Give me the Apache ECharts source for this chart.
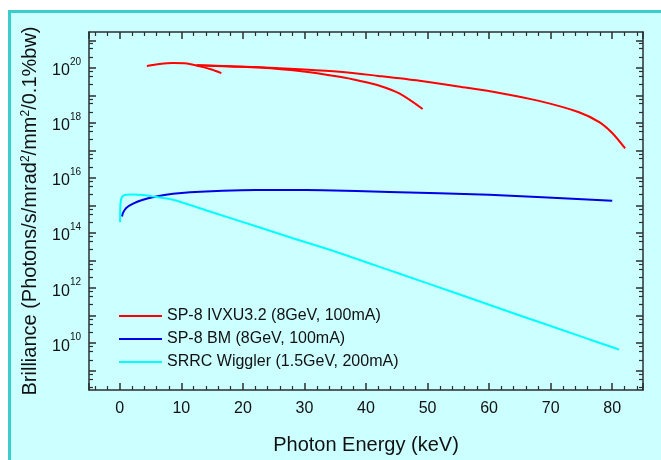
<!DOCTYPE html>
<html>
<head>
<meta charset="utf-8">
<script src="https://cdn.jsdelivr.net/npm/echarts@6/dist/echarts.min.js"></script>
<style>
html,body{margin:0;padding:0;background:#ffffff;width:661px;height:460px;overflow:hidden;}
#bg{position:absolute;left:8px;top:10px;width:700px;height:500px;background:#ccffff;border-left:3px solid #3ccccc;border-top:3px solid #3ccccc;}
#chart{position:absolute;left:0;top:0;width:661px;height:460px;}
</style>
</head>
<body>
<div id="bg"></div>
<div id="chart"></div>
<script>
// ---- data ----
const seriesNames = ['SP-8 IVXU3.2 (8GeV, 100mA)', 'SP-8 BM (8GeV, 100mA)', 'SRRC Wiggler (1.5GeV, 200mA)'];

// SP-8 IVXU3.2 : three harmonic branches
const undA_E = [4.4, 6.5, 8.6, 10.9, 13.0, 14.8, 16.5];
const undA_B = [1.16e20, 1.38e20, 1.5e20, 1.45e20, 1.13e20, 8.85e19, 6.4e19];
const undB_E = [12.5, 18.0, 22.7, 29.2, 35.7, 38.9, 42.2, 45.4, 49.2];
const undB_B = [1.25e20, 1.12e20, 1.02e20, 7.6e19, 4.7e19, 3.4e19, 2.24e19, 1.17e19, 3.2e18];
const undC_E = [12.5, 18.0, 22.7, 29.2, 35.7, 42.0, 48.7, 55.0, 61.7, 68.1, 74.6, 77.9, 80.0, 82.1];
const undC_B = [1.25e20, 1.15e20, 1.05e20, 8.9e19, 7.2e19, 5.1e19, 3.4e19, 2.1e19, 1.23e19, 6.3e18, 2.45e18, 1.07e18, 4.3e17, 1.18e17];

// SP-8 bending magnet
const bmE = [0.37, 0.54, 1.09, 2.16, 3.78, 5.95, 8.65, 11.4, 16.7, 22.2, 27.6, 33.0, 43.8, 60.0, 80.0];
const bmB = [4.0e14, 5.5e14, 8.3e14, 1.18e15, 1.63e15, 2.13e15, 2.65e15, 3.04e15, 3.47e15, 3.67e15, 3.67e15, 3.58e15, 3.12e15, 2.44e15, 1.5e15];

// SRRC wiggler
const wigE = [0.05, 0.1, 0.27, 0.54, 1.09, 2.16, 3.78, 5.95, 8.65, 15.0, 22.0, 28.0, 35.4, 45.0, 55.0, 65.0, 75.0, 81.1];
const wigB = [2.45e14, 1.08e15, 1.86e15, 2.25e15, 2.44e15, 2.5e15, 2.39e15, 2.03e15, 1.62e15, 5.7e14, 1.8e14, 6.6e13, 1.98e13, 3.6e12, 6.1e11, 1.02e11, 1.74e10, 5.9e9];

// axis ranges / ticks / tick labels
const xMin = -5, xMax = 85;
const yMin = 2e8, yMax = 2e21;
const yMajorTicks = [1e9, 1e10, 1e11, 1e12, 1e13, 1e14, 1e15, 1e16, 1e17, 1e18, 1e19, 1e20, 1e21];
const yLabelValues = [1e10, 1e12, 1e14, 1e16, 1e18, 1e20];
const yMinorMantissas = [2.5, 5, 7.5];

const colors = ['#ff0000', '#0000e6', '#00ffff'];

function pairs(xs, ys) { return xs.map((x, i) => [x, ys[i]]); }

const yMinorTicks = [];
[1e8].concat(yMajorTicks).forEach(d => yMinorMantissas.forEach(m => {
  const v = m * d; if (v > yMin && v < yMax) yMinorTicks.push(v);
}));

const FONT = 'Liberation Sans, Arial, Helvetica, sans-serif';
const axisCol = '#2a2f2f';

function lineSeries(name, xs, ys, color) {
  return {
    type: 'line', name: name, data: pairs(xs, ys),
    xAxisIndex: 0, yAxisIndex: 0,
    symbol: 'none', smooth: 0.3,
    lineStyle: { color: color, width: 2 }, itemStyle: { color: color },
    silent: true, animation: false
  };
}

const chart = echarts.init(document.getElementById('chart'), null, { renderer: 'canvas' });

const xCommon = {
  type: 'value', min: xMin, max: xMax, splitNumber: 9,
  axisLine: { show: true, onZero: false, lineStyle: { color: axisCol, width: 1.5 } },
  axisTick: { show: true, inside: true, length: 7, lineStyle: { color: axisCol, width: 1.5 } },
  minorTick: { show: true, splitNumber: 5, length: 4, lineStyle: { color: axisCol, width: 1.2 } },
  splitLine: { show: false }, minorSplitLine: { show: false }
};
function yAxisDef(pos, major, withLabels) {
  const ax = {
    type: 'log', logBase: 10, min: yMin, max: yMax, position: pos,
    axisLine: { show: major, onZero: false, lineStyle: { color: axisCol, width: 1.5 } },
    axisTick: {
      show: true, inside: true, length: major ? 7 : 4,
      customValues: major ? yMajorTicks : yMinorTicks,
      lineStyle: { color: axisCol, width: major ? 1.5 : 1.2 }
    },
    splitLine: { show: false }, minorTick: { show: false },
    axisLabel: { show: false }
  };
  if (withLabels) {
    ax.name = 'Brilliance (Photons/s/mrad{s|2}/mm{s|2}/0.1%bw)';
    ax.nameLocation = 'middle';
    ax.nameGap = 49;
    ax.nameRotate = 90;
    ax.nameTextStyle = {
      fontFamily: FONT, fontSize: 20, color: '#111',
      rich: { s: { fontFamily: FONT, fontSize: 12, verticalAlign: 'top', color: '#111' } }
    };
    ax.axisLabel = {
      show: true, margin: 8, fontFamily: FONT, color: '#111',
      customValues: yLabelValues,
      formatter: function (v) {
        const e = Math.round(Math.log10(v));
        return '{b|10}{s|' + e + '}';
      },
      rich: {
        b: { fontFamily: FONT, fontSize: 16, color: '#111', lineHeight: 22, verticalAlign: 'bottom' },
        s: { fontFamily: FONT, fontSize: 10, color: '#111', lineHeight: 12, verticalAlign: 'top' }
      }
    };
  }
  return ax;
}

const option = {
  animation: false,
  backgroundColor: 'transparent',
  textStyle: { fontFamily: FONT },
  grid: { left: 89, top: 32, right: 18, bottom: 60, containLabel: false },
  legend: {
    show: true, orient: 'vertical', left: 119, top: 308, padding: 0,
    itemWidth: 43, itemHeight: 14, itemGap: 7,
    data: seriesNames.map(n => ({ name: n, icon: 'path://M0 0H43V2H0Z' })),
    textStyle: { fontFamily: FONT, fontSize: 16, color: '#111' },
    selectedMode: false
  },
  xAxis: [
    Object.assign({}, xCommon, {
      position: 'bottom',
      name: 'Photon Energy (keV)', nameLocation: 'middle', nameGap: 45,
      nameTextStyle: { fontFamily: FONT, fontSize: 20, color: '#111' },
      axisLabel: {
        show: true, margin: 11, fontFamily: FONT, fontSize: 16, color: '#111',
        showMinLabel: false, showMaxLabel: false,
        formatter: v => (v % 10 === 0 && v >= 0 && v <= 80) ? String(v) : ''
      }
    }),
    Object.assign({}, xCommon, { position: 'top', axisLabel: { show: false } })
  ],
  yAxis: [
    yAxisDef('left', true, true),
    yAxisDef('right', true, false),
    yAxisDef('left', false, false),
    yAxisDef('right', false, false)
  ],
  series: [
    lineSeries(seriesNames[0], undA_E, undA_B, colors[0]),
    lineSeries(seriesNames[0], undB_E, undB_B, colors[0]),
    lineSeries(seriesNames[0], undC_E, undC_B, colors[0]),
    lineSeries(seriesNames[1], bmE, bmB, colors[1]),
    lineSeries(seriesNames[2], wigE, wigB, colors[2])
  ]
};
chart.setOption(option);
</script>
</body>
</html>
